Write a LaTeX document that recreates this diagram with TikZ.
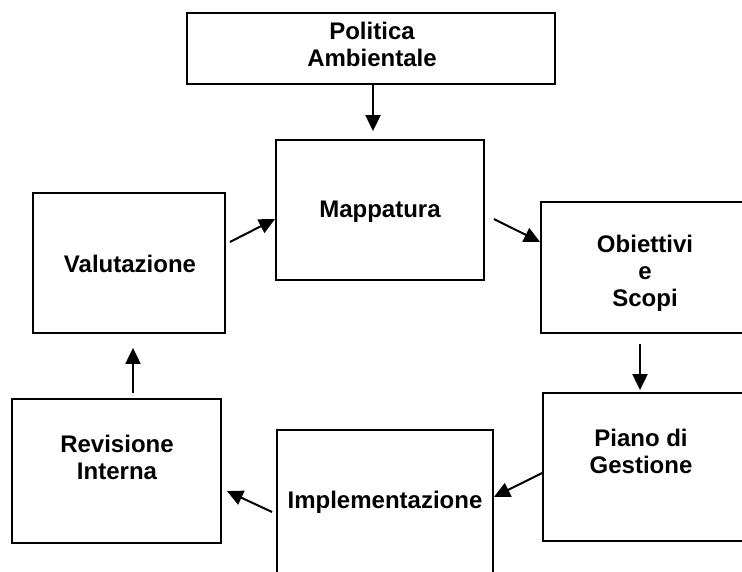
\documentclass[tikz,border=0pt]{standalone}
\usepackage{fontspec}
\setmainfont{Liberation Sans}
\usetikzlibrary{arrows.meta}

\begin{document}
\begin{tikzpicture}[
    x=1pt, y=-1pt,
    box/.style={draw, line width=1.8pt, inner sep=0pt},
    lbl/.style={align=center, inner sep=0pt, font=\bfseries\fontsize{24}{27}\selectfont},
    arrow/.style={-{Triangle[length=16pt,width=15pt]}, line width=2pt}
  ]

  \useasboundingbox (0,0) rectangle (742,572);

  % Boxes
  \node[box, minimum width=368pt, minimum height=71pt] (politica) at (371,48.5) {};
  \node[box, minimum width=208pt, minimum height=140pt] (mappatura) at (380,210) {};
  \node[box, minimum width=192pt, minimum height=140pt] (valutazione) at (129,263) {};
  \node[box, minimum width=208pt, minimum height=131pt] (obiettivi) at (645,267.5) {};
  \node[box, minimum width=202pt, minimum height=148pt] (piano) at (644,467) {};
  \node[box, minimum width=216pt, minimum height=144pt] (implementazione) at (385,502) {};
  \node[box, minimum width=209pt, minimum height=144pt] (revisione) at (116.5,471) {};

  % Labels
  \node[lbl] (tpolitica) at (372,44) {Politica\\Ambientale};
  \node[lbl] (tmappatura) at (380,212) {Mappatura};
  \node[lbl] (tvalutazione) at (130,263.5) {Valutazione};
  \node[lbl] (tobiettivi) at (645,273) {Obiettivi\\e\\Scopi};
  \node[lbl] (tpiano) at (641,451) {Piano di\\Gestione};
  \node[lbl] (trevisione) at (117,457) {Revisione\\Interna};
  \node[lbl] (timplementazione) at (385,502) {Implementazione};

  % Arrows
  \draw[arrow] ([xshift=2pt]politica.south) -- ([xshift=-7pt,yshift=8pt]mappatura.north);
  \draw[arrow] ([xshift=4pt,yshift=21pt]valutazione.east) -- ([yshift=-9pt]mappatura.west);
  \draw[arrow] ([xshift=9pt,yshift=-9pt]mappatura.east) -- ([yshift=25.5pt]obiettivi.west);
  \draw[arrow] ([xshift=-5pt,yshift=-10pt]obiettivi.south) -- ([xshift=-4pt,yshift=2pt]piano.north);
  \draw[arrow] ([yshift=-6pt]piano.west) -- ([yshift=5pt]implementazione.east);
  \draw[arrow] ([xshift=-4pt,yshift=-10pt]implementazione.west) -- ([xshift=5pt,yshift=-20pt]revisione.east);
  \draw[arrow] ([xshift=16.5pt,yshift=5pt]revisione.north) -- ([xshift=4pt,yshift=-14pt]valutazione.south);

\end{tikzpicture}
\end{document}
